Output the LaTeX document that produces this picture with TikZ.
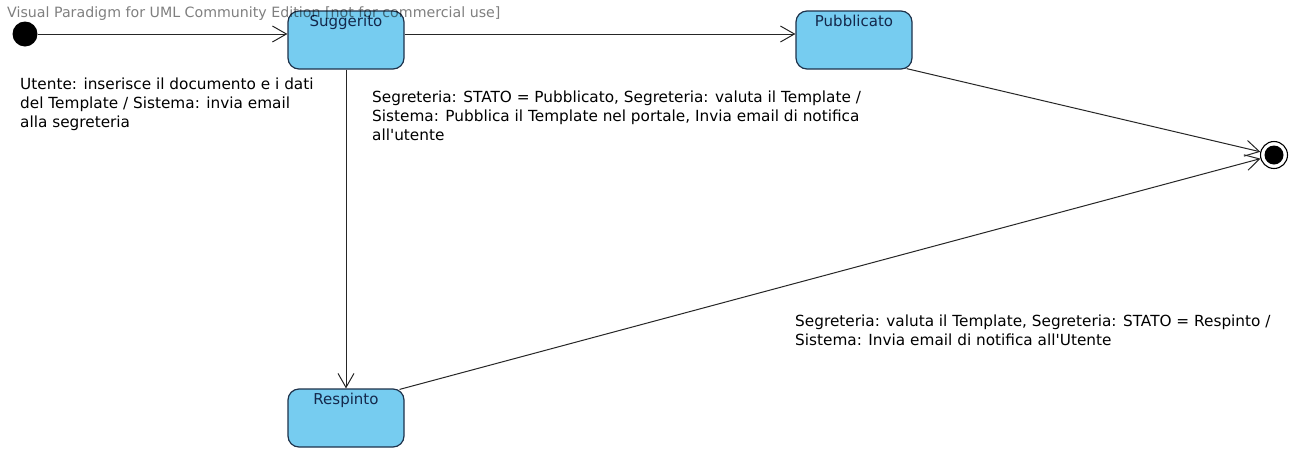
\documentclass[tikz,border=0pt]{standalone}
\usepackage{fontspec}
\setmainfont{DejaVu Sans}
\usetikzlibrary{arrows.meta,calc}
\definecolor{statefill}{RGB}{118,204,240}
\definecolor{stateline}{RGB}{30,50,75}
\definecolor{statetext}{RGB}{20,40,75}
\begin{document}
\begin{tikzpicture}[x=1pt,y=-1pt,
  state/.style={draw=stateline, line width=1.2pt, fill=statefill, rounded corners=11pt,
    minimum width=116pt, minimum height=58pt, inner sep=0pt,
    text height=15pt, text depth=43pt, text=statetext, font=\fontsize{15}{17}\selectfont},
  trans/.style={draw=black!85, line width=1pt,
    -{Straight Barb[length=14pt,width=16pt,line width=1pt]}},
  lbl/.style={font=\fontsize{15.3}{19}\selectfont, align=left, anchor=north west,
    inner sep=0pt, text=black},
  wmark/.style={font=\fontsize{14.2}{17}\selectfont, anchor=base west, inner sep=0pt,
    text=black, text opacity=0.5},
]
\useasboundingbox (0,0) rectangle (1294,448);
\fill[white] (0,0) rectangle (1294,448);

% states
\node[state] (sugg) at (346,40) {Suggerito};
\node[state] (pub) at (854,40) {Pubblicato};
\node[state] (resp) at (346,418) {Respinto};

% initial and final
\node[circle, fill=black, minimum size=25pt, inner sep=0pt] (init) at (25,34) {};
\node[circle, draw=black, line width=1.1pt, fill=white, minimum size=27pt, inner sep=0pt] (fin) at (1274,155) {};
\node[circle, fill=black, minimum size=19pt, inner sep=0pt] (finin) at (fin) {};

% transitions
\draw[trans] (init.east) -- (init -| sugg.west);
\draw[trans] (sugg.east |- init) -- (init -| pub.west);
\draw[trans] (sugg.south) -- (resp.north);
\coordinate (pubout) at ($(pub.south east)+(-6,-1)$);
\coordinate (respout) at ($(resp.north east)+(-5,1)$);
\draw[trans] (pubout) -- (fin);
\draw[trans] (respout) -- (fin);

% labels
\node[lbl] (l1) at (20,78) {Utente: inserisce il documento e i dati\\del Template / Sistema: invia email\\alla segreteria};
\node[lbl] (l2) at (372,91) {Segreteria: STATO = Pubblicato, Segreteria: valuta il Template /\\Sistema: Pubblica il Template nel portale, Invia email di notifica\\all\textquotesingle utente};
\node[lbl] (l3) at (795,315) {Segreteria: valuta il Template, Segreteria: STATO = Respinto /\\Sistema: Invia email di notifica all\textquotesingle Utente};

% watermark
\node[wmark] (wm) at (7,17) {Visual Paradigm for UML Community Edition [not for commercial use]};
\end{tikzpicture}
\end{document}
